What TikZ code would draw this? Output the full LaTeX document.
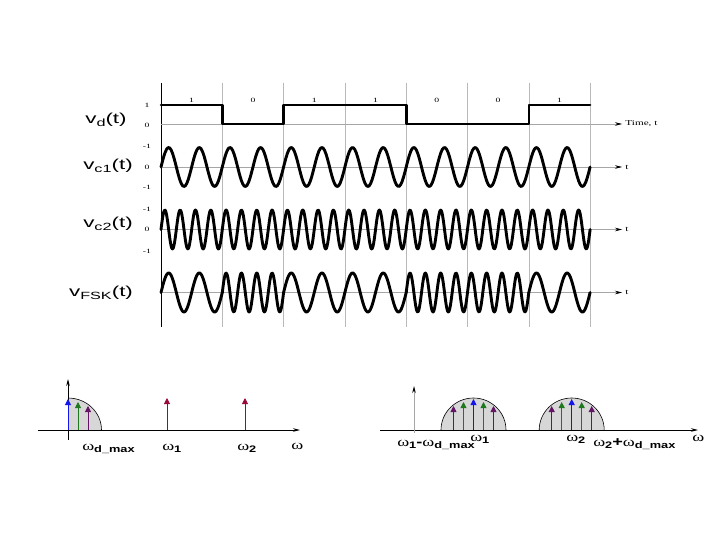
\documentclass[tikz,border=0pt]{standalone}
\usepackage{fontspec}
\setmainfont{Liberation Serif}
\setsansfont{Liberation Sans}
\usetikzlibrary{arrows.meta}

\definecolor{spkblue}{RGB}{20,20,235}
\definecolor{spkgreen}{RGB}{30,120,30}
\definecolor{spkpurple}{RGB}{100,20,100}
\definecolor{spkred}{RGB}{150,10,60}
\definecolor{lobegray}{RGB}{215,215,215}

\newcommand{\sig}[1]{v\raisebox{-0.35ex}{\fontsize{10.5}{10.5}\selectfont #1}(t)}
\newcommand{\om}[1]{ω\raisebox{-0.45ex}{\sffamily\bfseries\fontsize{9.5}{9.5}\selectfont #1}}

\tikzset{
  gridline/.style={gray!55, line width=0.5bp},
  timeaxis/.style={gray!70, line width=0.6bp, -{Stealth[color=black,length=7bp,width=3.5bp]}},
  wave/.style={line width=2.9bp, line cap=round, line join=round},
  siglabel/.style={font=\sffamily\fontsize{14.5}{14.5}\selectfont, xscale=1.55, inner sep=0pt},
  ticklabel/.style={font=\fontsize{6.5}{6.5}\selectfont, xscale=1.5, inner sep=0pt, text=black},
  omlabel/.style={font=\fontsize{13.5}{13.5}\selectfont, xscale=1.35, inner sep=0pt, anchor=base west},
  spike/.style={line width=0.9bp, -{Triangle[length=6bp,width=6bp]}},
  lobe/.style={fill=lobegray, draw=none},
}

\begin{document}
\begin{tikzpicture}[x=1bp,y=-1bp]
  \fill[white] (0,0) rectangle (720,540);
  \useasboundingbox (0,0) rectangle (720,540);

  % Señales en el tiempo: rejilla de bits
  \foreach \k in {1,...,7}{
    \draw[gridline] ({161+61.3*\k},83) -- ({161+61.3*\k},327);
  }
  \draw[line width=0.8bp] (161,83) -- (161,327);
  \foreach \y/\lab in {124/{Time, t},167/t,229.5/t,292.5/t}{
    \draw[timeaxis] (161,\y) -- (622,\y) node[right=3bp, ticklabel, font=\fontsize{7.5}{7.5}\selectfont]{\lab};
  }
  % bits
  \foreach \b [count=\i from 0] in {1,0,1,1,0,0,1}{
    \node[ticklabel] (bit\i) at ({161+61.3*(\i+0.5)},100) {\b};
  }
  % niveles
  \foreach \y/\v in {105/1,125/0,146/-1,167/0,187/-1,209/-1,229.5/0,251/-1}{
    \node[ticklabel] at (147,\y) {\v};
  }
  \node[siglabel] (lab-d) at (106,120) {\sig{d}};
  \node[siglabel] (lab-c1) at (108,166) {\sig{c1}};
  \node[siglabel] (lab-c2) at (108,224) {\sig{c2}};
  \node[siglabel] (lab-fsk) at (101,293) {\sig{FSK}};

  % datos v_d(t)
  \draw[wave, line width=2.6bp] (161,105) -- (222.3,105) -- (222.3,124) -- (283.6,124) -- (283.6,105)
    -- (406.2,105) -- (406.2,124) -- (528.8,124) -- (528.8,105) -- (590.1,105);
  % portadoras
  \draw[wave] plot[domain=161:590.1, samples=300] (\x, {167 - 19.5*sin(720/61.3*(\x-161))});
  \draw[wave] plot[domain=161:590.1, samples=600] (\x, {229.5 - 19.5*sin(1440/61.3*(\x-161))});
  % FSK: bit 1 -> portadora 1, bit 0 -> portadora 2
  \foreach \b [count=\i from 0] in {1,0,1,1,0,0,1}{
    \pgfmathsetmacro{\fr}{ifthenelse(\b==1,720,1440)}
    \pgfmathsetmacro{\xa}{161+61.3*\i}
    \pgfmathsetmacro{\xb}{161+61.3*(\i+1)}
    \draw[wave] plot[domain=\xa:\xb, samples=90] (\x, {292.5 - 19.5*sin(\fr/61.3*(\x-\xa))});
  }

  % Espectro en banda base
  \fill[lobe] (68,430) -- (68,398) arc[start angle=270, end angle=360, x radius=33.5, y radius=32] -- cycle;
  \draw[line width=0.6bp] (68,398) arc[start angle=270, end angle=360, x radius=33.5, y radius=32];
  \draw[line width=0.8bp, -{Stealth[length=7bp,width=3.5bp]}] (38,430) -- (300,430);
  \draw[line width=0.8bp, -{Stealth[length=7bp,width=3.5bp]}] (68,440) -- (68,379);
  \draw[spike, spkblue] (68,430) -- (68,399);
  \draw[spike, spkgreen] (78,430) -- (78,402);
  \draw[spike, spkpurple] (88,430) -- (88,406);
  \draw[spike, spkred] (167,430) -- (167,398);
  \draw[spike, spkred] (245,430) -- (245,398);
  \node[omlabel] (w-dmax) at (82,450) {\om{d\_max}};
  \node[omlabel] (w-1) at (162,450) {\om{1}};
  \node[omlabel] (w-2) at (237,450) {\om{2}};
  \node[omlabel] (w-a) at (291,449) {ω};

  % Espectro FSK
  \foreach \c in {473.5,571.7}{
    \fill[lobe] ({\c-32.5},430) arc[start angle=180, end angle=360, x radius=32.5, y radius=32] -- cycle;
    \draw[line width=0.6bp] ({\c-32.5},430) arc[start angle=180, end angle=360, x radius=32.5, y radius=32];
    \foreach \d/\h/\col in {-20/406/spkpurple,-10/402/spkgreen,0/399/spkblue,10/402/spkgreen,20/406/spkpurple}{
      \draw[spike, \col] ({\c+\d},430) -- ({\c+\d},\h);
    }
  }
  \draw[line width=0.8bp, -{Stealth[length=7bp,width=3.5bp]}] (380,430) -- (698,430);
  \draw[gray!70, line width=0.8bp, -{Stealth[color=black,length=7bp,width=3.5bp]}] (414,433) -- (414,386);
  \node[omlabel] (w-lo) at (397,446) {\om{1}{\sffamily\bfseries -}\om{d\_max}};
  \node[omlabel] (w-c1) at (470,441) {\om{1}};
  \node[omlabel] (w-c2) at (566,441) {\om{2}};
  \node[omlabel] (w-hi) at (593,446) {\om{2}{\sffamily\bfseries +}\om{d\_max}};
  \node[omlabel] (w-b) at (692,441) {ω};
\end{tikzpicture}
\end{document}
